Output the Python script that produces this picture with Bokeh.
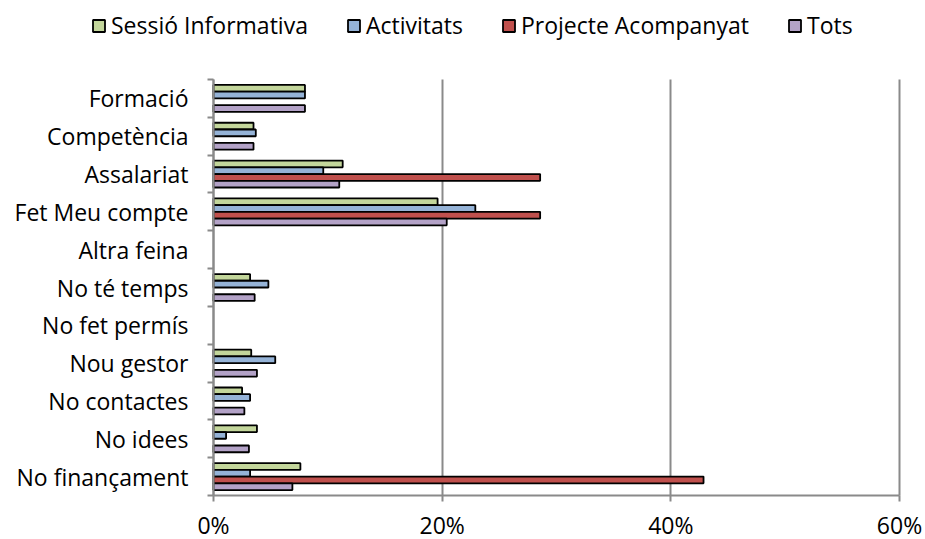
import numpy as np
from bokeh.plotting import figure
from bokeh.models import (Range1d, FixedTicker, Legend, LegendItem, Grid,
                          ColumnDataSource, PrintfTickFormatter)
from bokeh.embed import file_html
from bokeh.resources import INLINE

# Reasons (top to bottom) and share of responses per programme, in %
categories = ["Formació", "Competència", "Assalariat", "Fet Meu compte",
              "Altra feina", "No té temps", "No fet permís", "Nou gestor",
              "No contactes", "No idees", "No finançament"]
sessio_informativa = [8.0, 3.5, 11.3, 19.6, 0, 3.2, 0, 3.3, 2.5, 3.8, 7.6]
activitats = [8.0, 3.7, 9.6, 22.9, 0, 4.8, 0, 5.4, 3.2, 1.1, 3.2]
projecte_acompanyat = [0, 0, 28.57, 28.57, 0, 0, 0, 0, 0, 0, 42.86]
tots = [8.0, 3.5, 11.0, 20.4, 0, 3.6, 0, 3.8, 2.7, 3.1, 6.9]
x_ticks = [0, 20, 40, 60]

series = [
    ("Sessió Informativa", sessio_informativa, "#C3D69B"),
    ("Activitats", activitats, "#95B3D7"),
    ("Projecte Acompanyat", projecte_acompanyat, "#C0504D"),
    ("Tots", tots, "#B3A2C7"),
]

FONT = "Open Sans"
FONT_SIZE = "23px"
GREY = "#8A8A8A"
W, H = 925, 539

# Screen layout of the value area: left edge, right edge, top, bottom (px)
AX_L, AX_R, AX_T, AX_B = 213, 899, 79, 495
X_MAX = x_ticks[-1]
n = len(categories)

# The frame covers the whole canvas so the legend row and the axis labels
# sit inside it; the ranges are widened so the value area keeps its place.
px_per_x = (AX_R - AX_L) / X_MAX
px_per_y = (AX_B - AX_T) / n
y_lo, y_hi = -0.5, n - 0.5
x_range = Range1d(-AX_L / px_per_x, X_MAX + (W - AX_R) / px_per_x)
y_range = Range1d(y_lo - (H - AX_B) / px_per_y, y_hi + AX_T / px_per_y)

centers = [n - 1 - i for i in range(n)]          # first category on top
boundaries = [c - 0.5 for c in range(n + 1)]
bar_h = 0.178

p = figure(width=W, height=H, output_backend="svg", toolbar_location=None,
           x_range=x_range, y_range=y_range, min_border=0)
p.outline_line_color = None
p.background_fill_color = "white"
p.border_fill_color = "white"

items = []
for k, (name, vals, color) in enumerate(series):
    offset = (1.5 - k) * bar_h
    ys = [c + offset for c, v in zip(centers, vals) if v > 0]
    xs = [v for v in vals if v > 0]
    src = ColumnDataSource(dict(y=ys, right=xs))
    r = p.hbar(y="y", left=0, right="right", height=bar_h, source=src,
               fill_color=color, line_color="black", line_width=1.8)
    items.append(LegendItem(label=name, renderers=[r]))

legend = Legend(items=items, location=(91, 498), orientation="horizontal",
                padding=0, margin=0, spacing=38, border_line_color=None,
                background_fill_alpha=0, glyph_width=15, glyph_height=15,
                label_standoff=5, label_text_font=FONT,
                label_text_font_size=FONT_SIZE, label_text_color="black")
p.add_layout(legend, "center")

# x axis pinned to the bottom of the value area
xax = p.xaxis[0]
xax.fixed_location = y_lo
xax.bounds = (0, X_MAX)
xax.ticker = FixedTicker(ticks=x_ticks, minor_ticks=[])
xax.formatter = PrintfTickFormatter(format="%d%%")
xax.axis_line_color = GREY
xax.axis_line_width = 2
xax.major_tick_line_color = GREY
xax.major_tick_line_width = 2
xax.major_tick_out = 6
xax.major_tick_in = 0
xax.major_label_standoff = 7
xax.major_label_text_font = FONT
xax.major_label_text_font_size = FONT_SIZE
xax.major_label_text_color = "black"

# y axis pinned at x = 0: labels at category centres, ticks at boundaries
yax = p.yaxis[0]
yax.fixed_location = 0
yax.bounds = (y_lo, y_hi)
yax.ticker = FixedTicker(ticks=centers, minor_ticks=boundaries)
yax.major_label_overrides = {c: categories[i] for i, c in enumerate(centers)}
yax.axis_line_color = GREY
yax.axis_line_width = 2
yax.major_tick_line_color = None
yax.major_tick_out = 0
yax.major_tick_in = 0
yax.minor_tick_line_color = GREY
yax.minor_tick_line_width = 2
yax.minor_tick_out = 6
yax.minor_tick_in = 0
yax.major_label_standoff = 19
yax.major_label_text_font = FONT
yax.major_label_text_font_size = FONT_SIZE
yax.major_label_text_color = "black"

# vertical grid lines, kept inside the value area
p.ygrid.grid_line_color = None
xg = p.xgrid[0]
xg.grid_line_color = GREY
xg.grid_line_width = 2
xg.bounds = (0, X_MAX)
if "cross_bounds" in Grid.properties():
    xg.cross_bounds = (y_lo, y_hi)
else:
    xg.grid_line_color = None
    p.segment(x0=x_ticks, x1=x_ticks, y0=y_lo, y1=y_hi,
              line_color=GREY, line_width=2)

open("out.html", "w").write(file_html(p, INLINE))
